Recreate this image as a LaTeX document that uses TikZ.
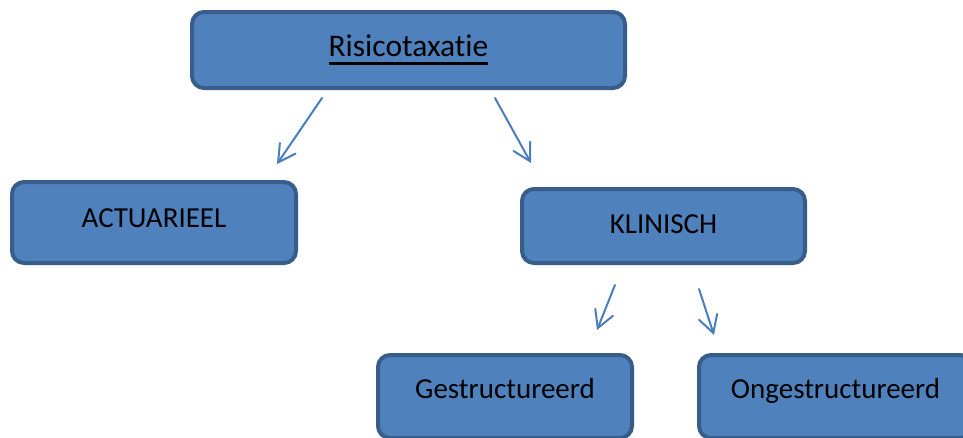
\documentclass[tikz,border=0pt]{standalone}
\usepackage{fontspec}
\setmainfont{Carlito}[Ligatures=CommonOff]
\usetikzlibrary{arrows.meta,calc}
\definecolor{boxfill}{HTML}{4F81BD}
\definecolor{boxline}{HTML}{385D8A}
\definecolor{arrowcol}{HTML}{4A7EBB}
\newcommand\myul[1]{\setbox0\hbox{#1}\rlap{\rule[-8pt]{\wd0}{2.5pt}}\box0}
\begin{document}
\begin{tikzpicture}[x=1pt,y=-1pt,
  box/.style={draw=boxline, fill=boxfill, line width=4pt, rounded corners=12pt,
    inner sep=0pt, font=\fontsize{29}{34}\selectfont, text=black},
  conn/.style={draw=arrowcol, line width=2pt, line cap=round,
    -{Straight Barb[length=17pt,width=19pt,line cap=round]}}]
\clip (0,0) rectangle (963,437);
\node[box, minimum width=433pt, minimum height=76pt, text height=24pt, text depth=11pt,
  font=\fontsize{31.5}{36}\selectfont] (ris) at (408.5,50) {\myul{Risicotaxatie}};
\node[box, minimum width=284pt, minimum height=81pt, text height=20pt, text depth=11pt]
  (act) at (154,222.5) {ACTUARIEEL};
\node[box, minimum width=283pt, minimum height=74pt, text height=21pt, text depth=7pt]
  (kli) at (663.5,226) {KLINISCH};
\node[box, minimum width=254pt, minimum height=83pt, text height=20pt, text depth=17pt]
  (ges) at (505,396.5) {Gestructureerd};
\node[box, minimum width=273pt, minimum height=83pt, text height=20pt, text depth=17pt]
  (ong) at (835.5,396.5) {Ongestructureerd};
\coordinate (a1s) at ($(ris.south)+(-86.5,8)$);
\coordinate (a1e) at ($(act.north)+(123,-16)$);
\coordinate (a2s) at ($(ris.south)+(86.5,8)$);
\coordinate (a2e) at ($(kli.north)+(-132.5,-24)$);
\coordinate (a3s) at ($(kli.south)+(-48.5,20)$);
\coordinate (a3e) at ($(ges.north)+(92,-23)$);
\coordinate (a4s) at ($(kli.south)+(35.5,24)$);
\coordinate (a4e) at ($(ong.north)+(-121.5,-18)$);
\draw[conn] (a1s) -- (a1e);
\draw[conn] (a2s) -- (a2e);
\draw[conn] (a3s) -- (a3e);
\draw[conn] (a4s) -- (a4e);
\end{tikzpicture}
\end{document}
